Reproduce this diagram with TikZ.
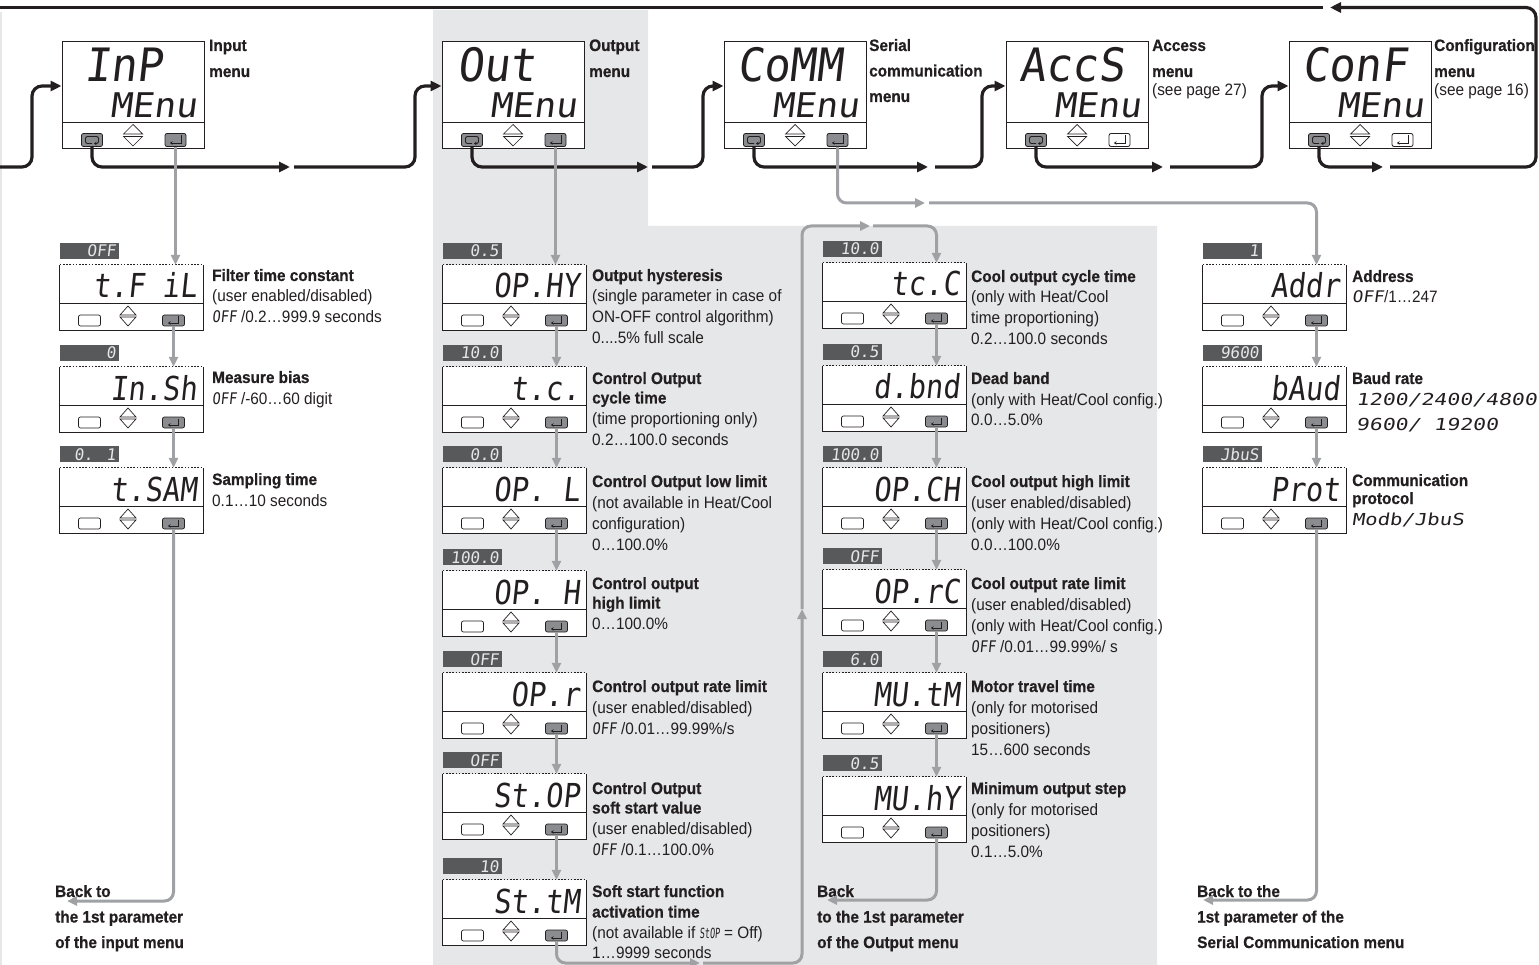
\documentclass[tikz,border=0pt]{standalone}
\usepackage{fontspec}
\usepackage{graphicx}
\setmainfont{Liberation Sans}[FakeStretch=0.93,BoldFeatures={FakeBold=0.6}]
\newfontfamily\segfont[FakeSlant=0.12]{DejaVu Sans Mono}
\usetikzlibrary{arrows.meta}
\definecolor{bgg}{HTML}{E6E7E8}
\definecolor{arrg}{HTML}{9FA1A4}
\definecolor{btng}{HTML}{8A8C8F}
\definecolor{lblg}{HTML}{58595B}
\definecolor{segc}{HTML}{231F20}
\definecolor{ink}{HTML}{231F20}
\definecolor{lblt}{HTML}{E6E7E8}
\newcommand\SG[3]{\scalebox{#2}[1]{\segfont\fontsize{#1}{#1}\selectfont #3}}
\newcommand\lnB[1]{\hbox{\bfseries #1}}
\newcommand\lnN[1]{\hbox{#1}}
\newcommand\tblock[2]{\vtop{\baselineskip=#1pt\lineskiplimit=-40pt\lineskip=0pt #2}}
\tikzset{
 boxline/.style={draw=ink,line width=0.9pt},
 menub/.style={draw=ink,line width=1pt,fill=white,minimum width=142pt,minimum height=107pt,inner sep=0pt},
 pbox/.style={fill=white,minimum width=143pt,minimum height=65pt,inner sep=0pt},
 mbtn/.style={draw=ink,line width=0.8pt,rounded corners=2pt,minimum width=21pt,minimum height=13pt,inner sep=0pt},
 pbtn/.style={draw=ink,line width=0.7pt,rounded corners=2pt,minimum width=22pt,minimum height=11pt,inner sep=0pt},
 segtxt/.style={inner sep=0pt,text=segc},
 vlab/.style={fill=lblg,minimum width=59pt,minimum height=16pt,inner sep=0pt},
 sym/.style={draw=ink,line width=0.7pt},
 dsc/.style={anchor=base west,inner sep=0pt,text=ink,font=\fontsize{16.5}{21}\selectfont},
 blk/.style={draw=ink,line width=3.2pt,rounded corners=10pt,-{Triangle[length=11pt,width=10pt]}},
 gar/.style={draw=arrg,line width=3pt,rounded corners=9pt,-{Triangle[length=10pt,width=9pt]}},
}
\newcommand\menubox[5]{%
 \node[menub] (#1) at (#2+71,95.5) {};
 \draw[boxline] (#2,122) -- (#2+142,122);
 \node[segtxt,anchor=base west] (#1T) at (#2+#5,82) {\SG{46}{0.95}{#3}};
 \node[segtxt,anchor=base east] (#1M) at (#2+135,118) {\SG{34}{1.06}{MEnu}};
 \node[mbtn,fill=btng] (#1B) at (#2+30,140) {};
 \node[mbtn,fill=#4] (#1E) at (#2+113.5,140) {};
 \draw[sym] (#2+61.5,134) -- (#2+71,124.5) -- (#2+80.5,134) -- cycle;
 \draw[sym] (#2+61.5,136.5) -- (#2+71,146) -- (#2+80.5,136.5) -- cycle;
 \draw[sym,line width=0.9pt,rounded corners=2pt,-{Stealth[length=2.5pt,width=3.5pt]}] (#2+30,143.5) -- (#2+23.5,143.5) -- (#2+23.5,136.5) -- (#2+36.5,136.5) -- (#2+36.5,143.5) -- (#2+32,143.5);
 \draw[sym,line width=0.9pt,-{Stealth[length=2.5pt,width=3.5pt]}] (#2+119,135.5) -- (#2+119,143) -- (#2+108,143);
}
\newcommand\parmbox[5]{%
 \node[pbox] (#1) at (#2+71.5,#3+32.5) {};
 \draw[boxline] (#1.north west) -- (#1.south west) -- (#1.south east) -- (#1.north east);
 \draw[boxline,line width=0.7pt,dash pattern=on 1.6pt off 1.6pt] (#1.north west) -- (#1.north east);
 \draw[boxline] (#2,#3+38.5) -- (#2+143,#3+38.5);
 \node[segtxt,anchor=base east] (#1T) at (#2+137,#3+33) {\SG{33}{0.87}{#4}};
 \node[pbtn,fill=white] (#1B) at (#2+29.5,#3+55.5) {};
 \node[pbtn,fill=btng] (#1E) at (#2+113.5,#3+55.5) {};
 \draw[sym] (#2+60,#3+50) -- (#2+68,#3+41) -- (#2+76,#3+50) -- cycle;
 \draw[sym] (#2+60,#3+52) -- (#2+68,#3+61) -- (#2+76,#3+52) -- cycle;
 \draw[sym,-{Stealth[length=2.5pt,width=3.5pt]}] (#2+118.5,#3+51.5) -- (#2+118.5,#3+58) -- (#2+108,#3+58);
 \node[vlab] (#1V) at (#2+29.5,#3-14) {};
 \node[segtxt,text=lblt,anchor=base east] (#1VT) at (#2+56,#3-8) {\SG{16}{1}{#5}};
}
\begin{document}
\begin{tikzpicture}[x=1pt,y=-1pt]
\useasboundingbox (0,0) rectangle (1539,965);
% backgrounds
\fill[bgg] (433,10) -- (648,10) -- (648,226) -- (1157,226) -- (1157,965) -- (433,965) -- cycle;
\fill[bgg] (0,12) rectangle (2.2,965);

% menu boxes
\menubox{inp}{62}{InP}{btng}{22}
\menubox{out}{442}{Out}{btng}{15}
\menubox{com}{724}{CoMM}{btng}{13}
\menubox{acc}{1006}{AccS}{white}{13}
\menubox{cnf}{1289}{ConF}{white}{13}

% menu labels
\node[dsc] (lInp) at (209,51) {\tblock{26}{\lnB{Input}\lnB{menu}}};
\node[dsc] (lOut) at (589,51) {\tblock{26}{\lnB{Output}\lnB{menu}}};
\node[dsc] (lCom) at (869,51) {\tblock{25.5}{\lnB{Serial}\lnB{communication}\lnB{menu}}};
\node[dsc] (lAcc) at (1152,51) {\tblock{26}{\lnB{Access}\lnB{menu}\vskip-7pt\lnN{(see page 27)}}};
\node[dsc] (lCnf) at (1434,51) {\tblock{26}{\lnB{Configuration}\lnB{menu}\vskip-7pt\lnN{(see page 16)}}};

% input column
\parmbox{tfil}{60}{265}{t.F iL}{OFF}
\parmbox{insh}{60}{367}{In.Sh}{0}
\parmbox{tsam}{60}{468}{t.SAM}{0. 1}
\node[dsc] (dI1) at (212,281) {\tblock{21}{\lnB{Filter time constant}\lnN{(user enabled/disabled)}\lnN{\SG{16}{0.85}{OFF} /0.2…999.9 seconds}}};
\node[dsc] (dI2) at (212,383) {\tblock{21}{\lnB{Measure bias}\lnN{\SG{16}{0.85}{OFF} /-60…60 digit}}};
\node[dsc] (dI3) at (212,485) {\tblock{21}{\lnB{Sampling time}\lnN{0.1…10 seconds}}};

% output column
\parmbox{ophy}{443}{265}{OP.HY}{0.5}
\parmbox{tc}{443}{367}{t.c.}{10.0}
\parmbox{opl}{443}{468}{OP. L}{0.0}
\parmbox{oph}{443}{571}{OP. H}{100.0}
\parmbox{opr}{443}{673}{OP.r}{OFF}
\parmbox{stop}{443}{774}{St.OP}{OFF}
\parmbox{sttm}{443}{880}{St.tM}{10}
\node[dsc] (dO1) at (592,281) {\tblock{21}{\lnB{Output hysteresis}\lnN{(single parameter in case of}\lnN{ON-OFF control algorithm)}\lnN{0....5\% full scale}}};
\node[dsc] (dO2) at (592,384) {\tblock{21}{\lnB{Control Output}\vskip-1.5pt\lnB{cycle time}\lnN{(time proportioning only)}\lnN{0.2…100.0 seconds}}};
\node[dsc] (dO3) at (592,487) {\tblock{21}{\lnB{Control Output low limit}\lnN{(not available in Heat/Cool}\lnN{configuration)}\lnN{0…100.0\%}}};
\node[dsc] (dO4) at (592,589) {\tblock{21}{\lnB{Control output}\vskip-1.5pt\lnB{high limit}\lnN{0…100.0\%}}};
\node[dsc] (dO5) at (592,692) {\tblock{21}{\lnB{Control output rate limit}\lnN{(user enabled/disabled)}\lnN{\SG{16}{0.85}{OFF} /0.01…99.99\%/s}}};
\node[dsc] (dO6) at (592,794) {\tblock{21}{\lnB{Control Output}\vskip-1.5pt\lnB{soft start value}\lnN{(user enabled/disabled)}\lnN{\SG{16}{0.85}{OFF} /0.1…100.0\%}}};
\node[dsc] (dO7) at (592,897) {\tblock{20.5}{\lnB{Soft start function}\lnB{activation time}\lnN{(not available if \SG{14}{0.6}{StOP} = Off)}\lnN{1…9999 seconds}}};

% cool column
\parmbox{tcc}{823}{263}{tc.C}{10.0}
\parmbox{dbnd}{823}{366}{d.bnd}{0.5}
\parmbox{opch}{823}{468}{OP.CH}{100.0}
\parmbox{oprc}{823}{570}{OP.rC}{OFF}
\parmbox{mutm}{823}{673}{MU.tM}{6.0}
\parmbox{muhy}{823}{777}{MU.hY}{0.5}
\node[dsc] (dC1) at (971,282) {\tblock{21}{\lnB{Cool output cycle time}\lnN{(only with Heat/Cool}\lnN{time proportioning)}\lnN{0.2…100.0 seconds}}};
\node[dsc] (dC2) at (971,384) {\tblock{21}{\lnB{Dead band}\lnN{(only with Heat/Cool config.)}\lnN{0.0…5.0\%}}};
\node[dsc] (dC3) at (971,487) {\tblock{21}{\lnB{Cool output high limit}\lnN{(user enabled/disabled)}\lnN{(only with Heat/Cool config.)}\lnN{0.0…100.0\%}}};
\node[dsc] (dC4) at (971,589) {\tblock{21}{\lnB{Cool output rate limit}\lnN{(user enabled/disabled)}\lnN{(only with Heat/Cool config.)}\lnN{\SG{16}{0.85}{OFF} /0.01…99.99\%/ s}}};
\node[dsc] (dC5) at (971,692) {\tblock{21}{\lnB{Motor travel time}\lnN{(only for motorised}\lnN{positioners)}\lnN{15…600 seconds}}};
\node[dsc] (dC6) at (971,794) {\tblock{21}{\lnB{Minimum output step}\lnN{(only for motorised}\lnN{positioners)}\lnN{0.1…5.0\%}}};

% serial column
\parmbox{addr}{1203}{265}{Addr}{1}
\parmbox{baud}{1203}{367}{bAud}{9600}
\parmbox{prot}{1203}{468}{Prot}{JbuS}
\node[dsc] (dS1) at (1352,282) {\tblock{21}{\lnB{Address}\lnN{\SG{16}{1.1}{OFF}/1…247}}};
\node[dsc] (dS2) at (1352,384) {\tblock{21}{\lnB{Baud rate}}};
\node[dsc] (dS2a) at (1356,405) {\SG{16.5}{1.3}{1200/2400/4800}};
\node[dsc] (dS2b) at (1356,430) {\SG{16.5}{1.3}{9600/ 19200}};
\node[dsc] (dS3) at (1352,486) {\tblock{18}{\lnB{Communication}\lnB{protocol}}};
\node[dsc] (dS3b) at (1352,525) {\SG{16.5}{1.25}{Modb/JbuS}};

% back texts
\node[dsc] (bI) at (55,897) {\tblock{25.5}{\lnB{Back to}\lnB{the 1st parameter}\lnB{of the input menu}}};
\node[dsc] (bO) at (817,897) {\tblock{25.5}{\lnB{Back}\lnB{to the 1st parameter}\lnB{of the Output menu}}};
\node[dsc] (bS) at (1197,897) {\tblock{25.5}{\lnB{Back to the}\lnB{1st parameter of the}\lnB{Serial Communication menu}}};

% black menu loop
\coordinate (e0) at (0,167);
\draw[blk] (e0) -- (32,167) |- ([yshift=9.5pt]inp.west);
\coordinate (a1) at (290,167); \draw[blk] (inpB.south) |- (a1);
\coordinate (b1) at (294,167); \draw[blk] (b1) -- (415,167) |- ([yshift=9.5pt]out.west);
\coordinate (a2) at (648,167); \draw[blk] (outB.south) |- (a2);
\coordinate (b2) at (652,167); \draw[blk] (b2) -- (703,167) |- ([yshift=9.5pt]com.west);
\coordinate (a3) at (928,167); \draw[blk] (comB.south) |- (a3);
\coordinate (b3) at (935,167); \draw[blk] (b3) -- (982,167) |- ([yshift=9.5pt]acc.west);
\coordinate (a4) at (1163,167); \draw[blk] (accB.south) |- (a4);
\coordinate (b4) at (1170,167); \draw[blk] (b4) -- (1262,167) |- ([yshift=9.5pt]cnf.west);
\coordinate (a5) at (1383,167); \draw[blk] (cnfB.south) |- (a5);
\coordinate (b5) at (1390,167); \coordinate (a6) at (1330,7.5);
\draw[blk] (b5) -- (1536,167) |- (a6);
\coordinate (b6) at (1323,7.5); \coordinate (e1) at (0,7.5);
\draw[blk,-] (b6) -- (e1);

% gray parameter flow: input
\draw[gar] (inpE.south) -- (tfil.north -| inpE.south);
\draw[gar] (tfilE.south) -- (insh.north -| tfilE.south);
\draw[gar] (inshE.south) -- (tsam.north -| inshE.south);
\coordinate (k1) at (67,901); \draw[gar] (tsamE.south) |- (k1);
% output
\draw[gar] (outE.south) -- (ophy.north -| outE.south);
\draw[gar] (ophyE.south) -- (tc.north -| ophyE.south);
\draw[gar] (tcE.south) -- (opl.north -| tcE.south);
\draw[gar] (oplE.south) -- (oph.north -| oplE.south);
\draw[gar] (ophE.south) -- (opr.north -| ophE.south);
\draw[gar] (oprE.south) -- (stop.north -| oprE.south);
\draw[gar] (stopE.south) -- (sttm.north -| stopE.south);
\coordinate (m1) at (700,963); \draw[gar] (sttmE.south) |- (m1);
\coordinate (m2) at (703,963); \coordinate (m3) at (802,609); \draw[gar] (m2) -| (m3);
\coordinate (m4) at (870,226); \draw[gar] (m3) |- (m4);
\coordinate (m5) at (873,226); \draw[gar] (m5) -| (tcc.north -| tccE.south);
% cool
\draw[gar] (tccE.south) -- (dbnd.north -| tccE.south);
\draw[gar] (dbndE.south) -- (opch.north -| dbndE.south);
\draw[gar] (opchE.south) -- (oprc.north -| opchE.south);
\draw[gar] (oprcE.south) -- (mutm.north -| oprcE.south);
\draw[gar] (mutmE.south) -- (muhy.north -| mutmE.south);
\coordinate (k2) at (827,900); \draw[gar] (muhyE.south) |- (k2);
% serial
\coordinate (c1) at (925,203); \draw[gar] (comE.south) |- (c1);
\coordinate (c2) at (929,203); \draw[gar] (c2) -| (addr.north -| addrE.south);
\draw[gar] (addrE.south) -- (baud.north -| addrE.south);
\draw[gar] (baudE.south) -- (prot.north -| baudE.south);
\coordinate (k3) at (1203,900); \draw[gar] (protE.south) |- (k3);
\end{tikzpicture}
\end{document}
